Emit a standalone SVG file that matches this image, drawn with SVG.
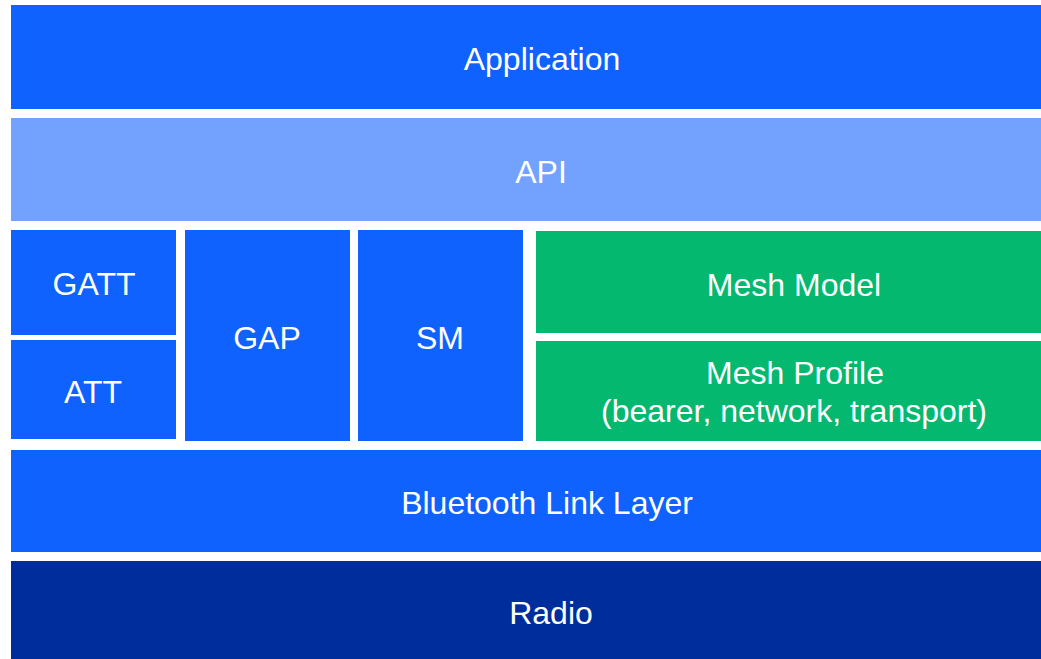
<svg xmlns="http://www.w3.org/2000/svg" width="1041" height="659" viewBox="0 0 1041 659">
<style>
.b{fill:#0F62FE}
.api{fill:#72A2FE}
.g{fill:#05B870}
.r{fill:#002D9C}
text{font-family:"Liberation Sans",Arial,sans-serif;font-size:32px;fill:#FFFFFF;text-anchor:middle}
</style>
<rect width="1041" height="659" fill="#FFFFFF"/>
<g id="application"><rect class="b" x="11" y="5" width="1030" height="104"/><text x="542" y="70">Application</text></g>
<g id="api"><rect class="api" x="11" y="118" width="1030" height="103"/><text x="541" y="183">API</text></g>
<g id="gatt"><rect class="b" x="11" y="230" width="165" height="105"/><text x="94" y="295">GATT</text></g>
<g id="att"><rect class="b" x="11" y="340" width="165" height="99"/><text x="93" y="403">ATT</text></g>
<g id="gap"><rect class="b" x="185" y="230" width="165" height="211"/><text x="267" y="349">GAP</text></g>
<g id="sm"><rect class="b" x="358" y="230" width="165" height="211"/><text x="440" y="349">SM</text></g>
<g id="mesh-model"><rect class="g" x="536" y="231" width="505" height="102"/><text x="794" y="296">Mesh Model</text></g>
<g id="mesh-profile"><rect class="g" x="536" y="341" width="505" height="100"/><text x="795" y="384">Mesh Profile</text><text x="794" y="422">(bearer, network, transport)</text></g>
<g id="link-layer"><rect class="b" x="11" y="450" width="1030" height="102"/><text x="547" y="514">Bluetooth Link Layer</text></g>
<g id="radio"><rect class="r" x="11" y="561" width="1030" height="98"/><text x="551" y="624">Radio</text></g>
<g id="connectors"/>
</svg>
